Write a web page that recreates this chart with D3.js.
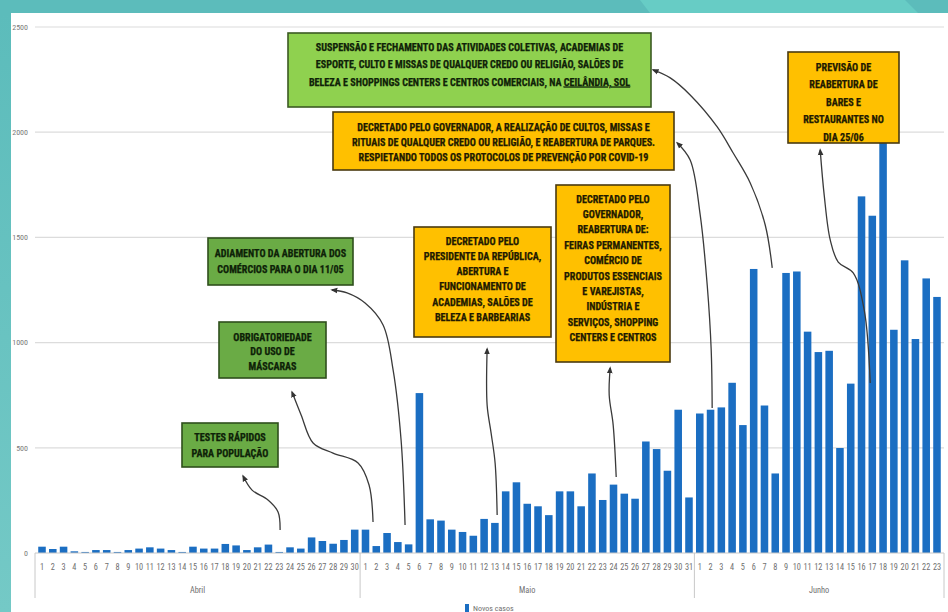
<!DOCTYPE html>
<html><head><meta charset="utf-8">
<script src="https://cdn.jsdelivr.net/npm/d3@7"></script>
<style>
html,body{margin:0;padding:0;background:#fff;}
svg{display:block;}
</style></head>
<body>
<svg id="c" width="948" height="612"></svg>
<script>
// ---------------- DATA ----------------
const meses = ["Abril", "Maio", "Junho"];
const abril = [30,19,30,8,5,14,14,5,14,21,27,21,14,5,30,21,21,43,36,14,27,40,5,27,21,74,57,44,62,111];
const maio  = [111,33,95,52,41,760,160,154,111,100,82,162,143,293,336,234,222,180,293,293,222,378,252,325,282,258,530,494,391,681,264];
const junho = [663,681,692,809,608,1350,701,378,1331,1338,1052,955,961,499,805,1695,1603,1990,1061,1391,1017,1305,1217];
const yTicks = [0, 500, 1000, 1500, 2000, 2500];
const serieNome = "Novos casos";

// annotation texts and arrow anchor points (day index, cases)
const notas = [
  {lines:["TESTES RÁPIDOS","PARA POPULAÇÃO"], tipo:"g",
   seta:[[22.08,109],[21.89,195],[20.96,252],[19.48,299],[18.65,366]]},
  {lines:["OBRIGATORIEDADE","DO USO DE","MÁSCARAS"], tipo:"g",
   seta:[[30.7,147],[30.33,323],[29.31,428],[26.99,475],[25.14,523],[24.03,656],[23.19,765]]},
  {lines:["ADIAMENTO DA ABERTURA DOS","COMÉRCIOS PARA O DIA 11/05"], tipo:"g",
   seta:[[33.67,133],[33.3,537],[32.56,870],[31.63,1084],[29.96,1188],[28.29,1236],[26.9,1250]]},
  {lines:["DECRETADO PELO","PRESIDENTE DA REPÚBLICA,","ABERTURA E","FUNCIONAMENTO DE","ACADEMIAS,  SALÕES DE","BELEZA E BARBEARIAS"], tipo:"o",
   seta:[[42.21,181],[42.02,428],[41.65,570],[41.28,703],[41.28,970]]},
  {lines:["DECRETADO  PELO","GOVERNADOR,","REABERTURA DE:","FEIRAS PERMANENTES,","COMÉRCIO DE","PRODUTOS ESSENCIAIS","E VAREJISTAS,","INDÚSTRIA E","SERVIÇOS, SHOPPING","CENTERS E CENTROS"], tipo:"o",
   seta:[[53.25,361],[52.97,608],[52.6,751],[52.69,879]]},
  {lines:["DECRETADO PELO GOVERNADOR,  A REALIZAÇÃO DE CULTOS, MISSAS E","RITUAIS DE QUALQUER CREDO OU RELIGIÃO, E REABERTURA DE PARQUES.","RESPIETANDO TODOS OS PROTOCOLOS DE PREVENÇÃO POR COVID-19"], tipo:"o",
   seta:[[62.15,689],[62.06,965],[61.69,1274],[61.04,1607],[60.11,1868],[58.91,1949]]},
  {lines:["SUSPENSÃO E FECHAMENTO  DAS ATIVIDADES COLETIVAS, ACADEMIAS DE","ESPORTE, CULTO E MISSAS DE QUALQUER CREDO OU RELIGIÃO, SALÕES DE","BELEZA E SHOPPINGS  CENTERS E CENTROS COMERCIAIS, NA |CEILÂNDIA, SOL"], tipo:"lg",
   seta:[[67.72,1355],[67.07,1559],[65.68,1759],[64.1,1901],[62.62,2025],[60.11,2177],[58.26,2258],[56.68,2296]]},
  {lines:["PREVISÃO DE","REABERTURA DE","BARES E","RESTAURANTES NO","DIA 25/06"], tipo:"o",
   seta:[[76.81,808],[76.25,1155],[75.23,1331],[73.84,1383],[73.1,1488],[72.54,1701],[72.17,1915]]}
];

// ---------------- LAYOUT ----------------
const boxLayout = [
  {x:182, y:423, w:96,  h:44,  y0:437, lh:16},
  {x:219, y:322, w:107, h:56,  y0:337, lh:14.5},
  {x:208, y:238, w:145, h:47,  y0:253, lh:16},
  {x:414, y:227, w:137, h:110, y0:241, lh:15.3},
  {x:556, y:185, w:114, h:177, y0:199, lh:15.4},
  {x:333, y:112, w:341, h:58,  y0:127, lh:15},
  {x:288, y:33,  w:363, h:74,  y0:47,  lh:17.5},
  {x:788, y:52,  w:111, h:91,  y0:67,  lh:17.6}
];
const estilos = {
  g:  {fill:"#6aab45", stroke:"#2f4f1c", text:"#0e2208"},
  lg: {fill:"#8fd14f", stroke:"#3b5a22", text:"#0f2208"},
  o:  {fill:"#ffc000", stroke:"#4a3a10", text:"#221a00"}
};
const W = 948, H = 612;
const plot = {left:35, right:944, top:27, bottom:553};
const FONT = "'Liberation Sans Narrow','Roboto Condensed','Open Sans',sans-serif";

const svg = d3.select("#c");

// background frame
svg.append("rect").attr("width",W).attr("height",H).attr("fill","#5cbcbb");
svg.append("path").attr("d","M640,0L905,0L918,13L650,13Z").attr("fill","#67ccc5");
const lg = svg.append("defs").append("linearGradient").attr("id","lft").attr("x1",0).attr("y1",0).attr("x2",0).attr("y2",1);
lg.append("stop").attr("offset","0").attr("stop-color","#5cbcbb");
lg.append("stop").attr("offset","1").attr("stop-color","#74c9c6");
svg.append("rect").attr("x",0).attr("y",13).attr("width",11).attr("height",H-13).attr("fill","url(#lft)");
svg.append("rect").attr("x",11).attr("y",13).attr("width",W-11).attr("height",H-13).attr("fill","#ffffff");

// data
const dados = [];
[abril, maio, junho].forEach((arr, m) => arr.forEach((v, k) => dados.push({mes:m, dia:k+1, v, i:dados.length})));

const x = d3.scaleBand().domain(d3.range(dados.length)).range([plot.left, plot.right]).padding(0.3);
const y = d3.scaleLinear().domain([0, 2500]).range([plot.bottom, plot.top]);
const xc = d3.scaleLinear().domain([0, dados.length-1]).range([x(0)+x.bandwidth()/2, x(dados.length-1)+x.bandwidth()/2]);

// gridlines
svg.append("g").selectAll("line").data(yTicks.filter(t=>t>0)).join("line")
  .attr("x1",plot.left).attr("x2",plot.right)
  .attr("y1",d=>y(d)).attr("y2",d=>y(d))
  .attr("stroke","#dcdcdc").attr("stroke-width",1.2);

// y labels
svg.append("g").selectAll("text").data(yTicks).join("text")
  .attr("x",28).attr("y",d=>y(d)).attr("dy","0.35em")
  .attr("text-anchor","end").attr("font-family",FONT).attr("font-size",8)
  .attr("fill","#7a7a7a").text(d=>d);

// bars
svg.append("g").selectAll("rect").data(dados).join("rect")
  .attr("x",d=>x(d.i)).attr("width",x.bandwidth())
  .attr("y",d=>y(d.v)).attr("height",d=>y(0)-y(d.v))
  .attr("fill","#1b6ec2");

// axis line
svg.append("line").attr("x1",plot.left).attr("x2",plot.right).attr("y1",y(0)).attr("y2",y(0))
  .attr("stroke","#c8c8c8").attr("stroke-width",1);

// day labels
svg.append("g").selectAll("text").data(dados).join("text")
  .attr("x",d=>x(d.i)+x.bandwidth()/2).attr("y",570)
  .attr("text-anchor","middle").attr("font-family",FONT).attr("font-size",8.3)
  .attr("fill","#707070").text(d=>d.dia);

// month separators and labels
const grupos = meses.map((m, mi) => {
  const items = dados.filter(d=>d.mes===mi);
  return {m, a: items[0].i, b: items[items.length-1].i};
});
const step = x.step();
const bound = i => i <= 0 ? plot.left : (i >= dados.length ? plot.right : x(i) - step*x.paddingInner()/2);
const seps = [0].concat(grupos.map(g=>g.b+1));
svg.append("g").selectAll("line").data(seps).join("line")
  .attr("x1",d=>bound(d)).attr("x2",d=>bound(d)).attr("y1",y(0)).attr("y2",598)
  .attr("stroke","#c8c8c8").attr("stroke-width",1);
svg.append("g").selectAll("text").data(grupos).join("text")
  .attr("x",g=>(bound(g.a)+bound(g.b+1))/2).attr("y",593)
  .attr("text-anchor","middle").attr("font-family",FONT).attr("font-size",8.3)
  .attr("fill","#707070").text(g=>g.m);

// legend
svg.append("rect").attr("x",465).attr("y",604).attr("width",4).attr("height",8).attr("fill","#1b6ec2");
svg.append("text").attr("x",473).attr("y",611).attr("font-family",FONT).attr("font-size",8)
  .attr("fill","#707070").text(serieNome);

// arrows
const defs = svg.select("defs");
defs.append("marker").attr("id","arr").attr("viewBox","0 -4 8 8").attr("refX",6).attr("refY",0)
  .attr("markerWidth",7).attr("markerHeight",7).attr("markerUnits","userSpaceOnUse").attr("orient","auto")
  .append("path").attr("d","M0,-3.2L8,0L0,3.2Z").attr("fill","#333");
const linha = d3.line().x(p=>xc(p[0])).y(p=>y(p[1])).curve(d3.curveCatmullRom.alpha(0.5));
svg.append("g").selectAll("path").data(notas).join("path")
  .attr("d",n=>linha(n.seta)).attr("fill","none").attr("stroke","#3a3a3a")
  .attr("stroke-width",1.3).attr("marker-end","url(#arr)");

// boxes
const gb = svg.append("g").selectAll("g").data(notas).join("g");
gb.append("rect")
  .attr("x",(n,i)=>boxLayout[i].x).attr("y",(n,i)=>boxLayout[i].y)
  .attr("width",(n,i)=>boxLayout[i].w).attr("height",(n,i)=>boxLayout[i].h)
  .attr("fill",n=>estilos[n.tipo].fill).attr("stroke",n=>estilos[n.tipo].stroke).attr("stroke-width",1.6);
gb.each(function(n, i){
  const L = boxLayout[i];
  const g = d3.select(this);
  n.lines.forEach((ln, k) => {
    const t = g.append("text")
      .attr("x", L.x + L.w/2).attr("y", L.y0 + k*L.lh).attr("dy","0.35em")
      .attr("text-anchor","middle").attr("font-family",FONT).attr("font-weight","bold")
      .attr("font-size", 10.1).attr("fill", estilos[n.tipo].text)
      .attr("stroke", estilos[n.tipo].text).attr("stroke-width", 0.25);
    const parts = ln.split("|");
    t.append("tspan").text(parts[0]);
    if (parts[1]) t.append("tspan").attr("text-decoration","underline").text(parts[1]);
    const maxW = L.w - 8;
    const len = t.node().getComputedTextLength();
    if (len > maxW) t.attr("textLength", maxW).attr("lengthAdjust","spacingAndGlyphs");
  });
});
</script>
</body></html>
